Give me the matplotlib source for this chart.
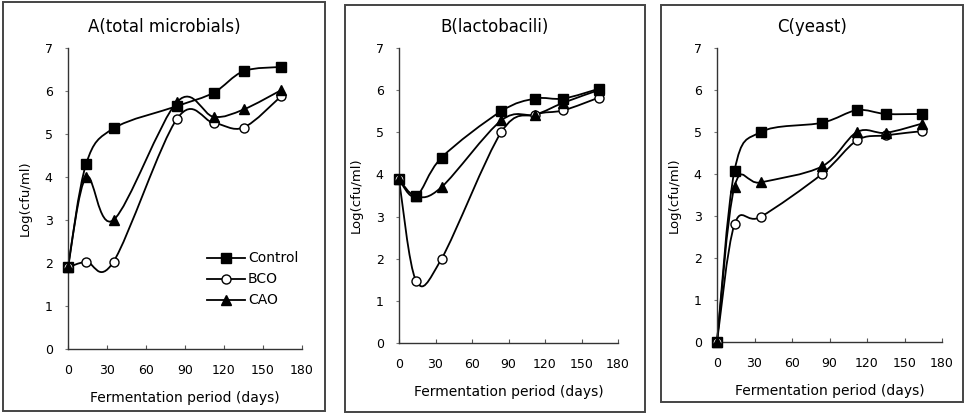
import matplotlib
matplotlib.use("Agg")
import matplotlib.pyplot as plt
from matplotlib.path import Path
from matplotlib.patches import PathPatch, Rectangle

plt.rcParams["font.family"] = ["DejaVu Sans"]

# sampling days
days = [0, 14, 35, 84, 112, 135, 164]

# A (total microbials)
a_control = [1.91, 4.31, 5.13, 5.65, 5.96, 6.46, 6.56]
a_bco = [1.90, 2.03, 2.03, 5.36, 5.26, 5.15, 5.88]
a_cao = [1.90, 4.00, 3.00, 5.75, 5.40, 5.57, 6.02]

# B (lactobacili)
b_control = [3.88, 3.48, 4.40, 5.50, 5.80, 5.80, 6.03]
b_bco = [3.88, 1.48, 2.00, 5.00, 5.42, 5.52, 5.82]
b_cao = [3.88, 3.48, 3.70, 5.28, 5.42, 5.70, 6.00]

# C (yeast)
c_control = [0.0, 4.08, 5.00, 5.22, 5.52, 5.43, 5.43]
c_bco = [0.0, 2.80, 2.98, 4.00, 4.80, 4.92, 5.02]
c_cao = [0.0, 3.70, 3.80, 4.18, 5.00, 4.98, 5.20]

titles = ["A(total microbials)", "B(lactobacili)", "C(yeast)"]
series_names = ["Control", "BCO", "CAO"]
x_ticks = [0, 30, 60, 90, 120, 150, 180]

W, H = 966, 413
fig = plt.figure(figsize=(W / 100, H / 100), dpi=100)


def px_axes(left, top, right, bottom):
    return fig.add_axes([left / W, 1 - bottom / H, (right - left) / W, (bottom - top) / H])


def smooth_path(ax, xs, ys):
    # Excel-style smoothed line: Catmull-Rom segments as cubic Beziers
    pts = list(zip(xs, ys))
    n = len(pts)
    verts = [pts[0]]
    codes = [Path.MOVETO]
    for i in range(n - 1):
        p0 = pts[i - 1] if i > 0 else pts[i]
        p1 = pts[i]
        p2 = pts[i + 1]
        p3 = pts[i + 2] if i + 2 < n else pts[i + 1]
        c1 = (p1[0] + (p2[0] - p0[0]) / 6, p1[1] + (p2[1] - p0[1]) / 6)
        c2 = (p2[0] - (p3[0] - p1[0]) / 6, p2[1] - (p3[1] - p1[1]) / 6)
        verts += [c1, c2, p2]
        codes += [Path.CURVE4] * 3
    ax.add_patch(PathPatch(Path(verts, codes), facecolor="none", edgecolor="black",
                           lw=1.3, zorder=2, clip_on=False))


styles = [
    dict(marker="s", mfc="black", mec="black", ms=6.5),
    dict(marker="o", mfc="white", mec="black", ms=6.5, mew=1.0),
    dict(marker="^", mfc="black", mec="black", ms=6.5),
]

panels = [
    ((68, 48, 302, 349), (3, 2, 325, 411), [a_control, a_bco, a_cao]),
    ((399, 48, 618, 343), (345, 5, 645, 412), [b_control, b_bco, b_cao]),
    ((717, 48, 942, 342), (661, 5, 963, 402), [c_control, c_bco, c_cao]),
]

for k, (ax_box, frame, data) in enumerate(panels):
    l, t, r, b = frame
    fig.patches.append(Rectangle((l / W, 1 - b / H), (r - l) / W, (b - t) / H,
                                 transform=fig.transFigure, fill=False,
                                 edgecolor="#444444", lw=1.4))
    fig.text((l + r) / 2 / W, 1 - 27 / H, titles[k], fontsize=12,
             ha="center", va="center")
    ax = px_axes(*ax_box)
    for ys, st, name in zip(data, styles, series_names):
        smooth_path(ax, days, ys)
        ax.plot(days, ys, ls="none", zorder=3, clip_on=False, **st)
    ax.set_xlim(0, 180)
    ax.set_ylim(0, 7)
    ax.set_xticks(x_ticks)
    ax.set_yticks(range(8))
    for s in ["top", "right"]:
        ax.spines[s].set_visible(False)
    for s in ["left", "bottom"]:
        ax.spines[s].set_color("#333333")
        ax.spines[s].set_linewidth(1.0)
    ax.tick_params(axis="x", direction="in", length=3, width=0.8, colors="#555555",
                   labelcolor="black", labelsize=9, pad=11)
    ax.tick_params(axis="y", direction="out", length=2, width=0.8, colors="#777777",
                   labelcolor="black", labelsize=9, pad=9)
    ax.set_xlabel("Fermentation period (days)", fontsize=10, labelpad=10)
    ax.set_ylabel("Log(cfu/ml)", fontsize=9.5, labelpad=9)
    ax.patch.set_visible(False)

    if k == 0:
        for j, (st, name) in enumerate(zip(styles, series_names)):
            yy = 258 + j * 21
            fig.add_artist(plt.Line2D([207 / W, 245 / W], [1 - yy / H, 1 - yy / H],
                                      color="black", lw=1.3,
                                      transform=fig.transFigure))
            fig.add_artist(plt.Line2D([226 / W], [1 - yy / H], ls="none",
                                      transform=fig.transFigure, **st))
            fig.text(248 / W, 1 - yy / H, name, fontsize=10, va="center", ha="left")

fig.savefig("out.png", dpi=100)
